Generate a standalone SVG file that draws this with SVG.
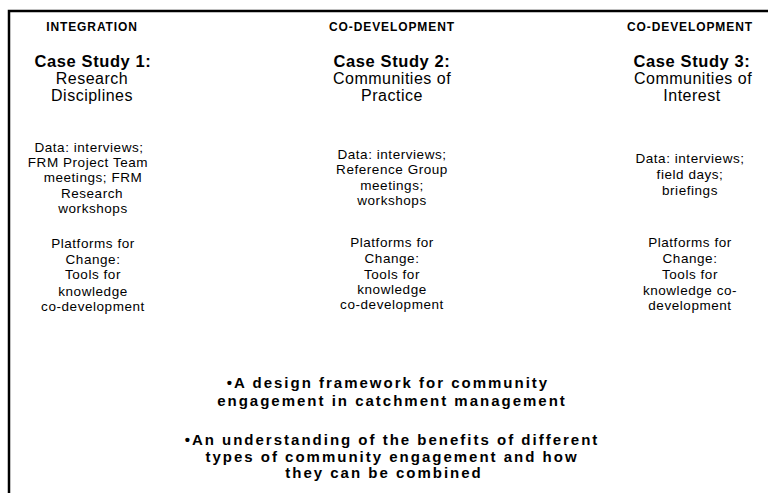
<svg xmlns="http://www.w3.org/2000/svg" width="768" height="493" viewBox="0 0 768 493">
  <style>
    text { font-family: "Liberation Sans", Arial, sans-serif; fill: #000; text-anchor: middle; }
    .tag { font-size: 12px; font-weight: bold; letter-spacing: 0.9px; }
    .title { font-size: 16.5px; font-weight: bold; letter-spacing: 0.6px; }
    .sub { font-size: 16px; letter-spacing: 0.5px; }
    .body { font-size: 13.5px; letter-spacing: 0.55px; }
    .outcome { font-size: 15px; font-weight: bold; letter-spacing: 2px; }
    .frame { fill: none; stroke: #000; stroke-width: 2.5; }
  </style>

  <rect width="768" height="493" fill="#fff"/>

  <!-- outer frame: top and left edges -->
  <g id="frame">
    <path class="frame" d="M9,493 V11 H768"/>
  </g>

  <!-- no connectors in this figure -->
  <g id="connectors"/>

  <g id="case-study-1">
    <text class="tag" x="92" y="31">INTEGRATION</text>
    <text class="title" x="93" y="67">Case Study 1:</text>
    <text class="sub" x="92" y="84">Research</text>
    <text class="sub" x="92" y="101">Disciplines</text>
    <text class="body" x="89" y="152">Data: interviews;</text>
    <text class="body" x="88" y="167">FRM Project Team</text>
    <text class="body" x="93" y="182">meetings; FRM</text>
    <text class="body" x="92" y="198">Research</text>
    <text class="body" x="93" y="213">workshops</text>
    <text class="body" x="93" y="248">Platforms for</text>
    <text class="body" x="93" y="264">Change:</text>
    <text class="body" x="93" y="279">Tools for</text>
    <text class="body" x="93" y="296">knowledge</text>
    <text class="body" x="93" y="311">co-development</text>
  </g>

  <g id="case-study-2">
    <text class="tag" x="392" y="31">CO-DEVELOPMENT</text>
    <text class="title" x="392" y="67">Case Study 2:</text>
    <text class="sub" x="392" y="84">Communities of</text>
    <text class="sub" x="392" y="101">Practice</text>
    <text class="body" x="392" y="159">Data: interviews;</text>
    <text class="body" x="392" y="174">Reference Group</text>
    <text class="body" x="392" y="190">meetings;</text>
    <text class="body" x="392" y="205">workshops</text>
    <text class="body" x="392" y="247">Platforms for</text>
    <text class="body" x="392" y="263">Change:</text>
    <text class="body" x="392" y="279">Tools for</text>
    <text class="body" x="392" y="294">knowledge</text>
    <text class="body" x="392" y="309">co-development</text>
  </g>

  <g id="case-study-3">
    <text class="tag" x="690" y="31">CO-DEVELOPMENT</text>
    <text class="title" x="692" y="67">Case Study 3:</text>
    <text class="sub" x="693" y="84">Communities of</text>
    <text class="sub" x="692" y="101">Interest</text>
    <text class="body" x="690" y="163">Data: interviews;</text>
    <text class="body" x="690" y="179">field days;</text>
    <text class="body" x="690" y="195">briefings</text>
    <text class="body" x="690" y="247">Platforms for</text>
    <text class="body" x="690" y="263">Change:</text>
    <text class="body" x="690" y="279">Tools for</text>
    <text class="body" x="690" y="295">knowledge co-</text>
    <text class="body" x="690" y="310">development</text>
  </g>

  <g id="outcomes">
    <text class="outcome" x="388" y="388">•A design framework for community</text>
    <text class="outcome" x="392" y="406">engagement in catchment management</text>
    <text class="outcome" x="392" y="445">•An understanding of the benefits of different</text>
    <text class="outcome" x="392" y="462">types of community engagement and how</text>
    <text class="outcome" x="384" y="478">they can be combined</text>
  </g>
</svg>
